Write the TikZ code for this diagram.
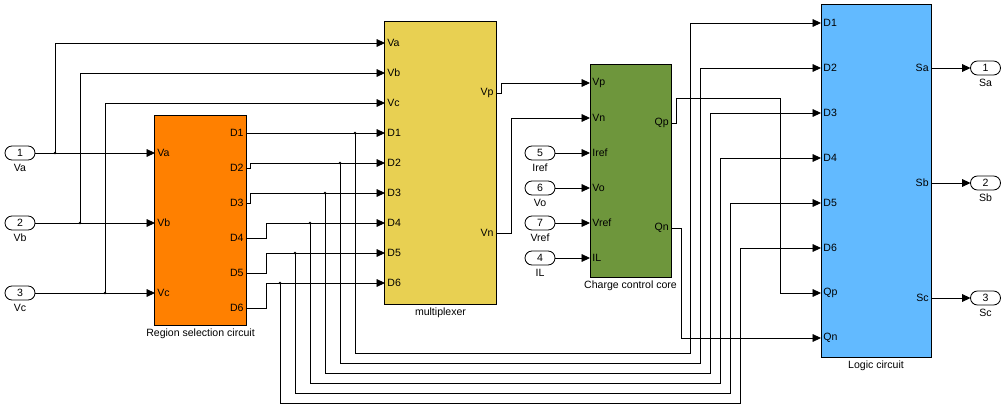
\documentclass[tikz,border=0pt]{standalone}
\usepackage{fontspec}
\setmainfont{Liberation Sans}
\usetikzlibrary{arrows.meta}

\definecolor{rscorange}{RGB}{255,128,0}
\definecolor{muxyellow}{RGB}{232,208,82}
\definecolor{ccgreen}{RGB}{110,150,60}
\definecolor{logblue}{RGB}{98,186,255}

\tikzset{
  blk/.style={draw, line width=.7pt, inner sep=0pt, outer sep=0pt},
  sig/.style={line width=.6pt, >={Triangle[length=6pt,width=5.5pt]}, ->},
  iport/.style={draw, line width=.6pt, fill=white, rounded corners=1.75mm,
    minimum width=.75cm, minimum height=.35cm, inner sep=0pt, outer sep=0pt,
    font=\fontsize{7.5}{8}\selectfont},
  pin/.style={inner sep=1.5pt, font=\fontsize{7.5}{8}\selectfont},
  tag/.style={inner sep=2.5pt, font=\fontsize{7.5}{8}\selectfont}
}

\begin{document}
\begin{tikzpicture}[x=0.025cm, y=-0.025cm]

    \useasboundingbox (0,0) rectangle (1008,413);

    % blocks
    \node[blk, fill=rscorange, minimum width=2.275cm, minimum height=5.225cm] (rsc) at (200.5,220.5) {};
    \node[tag, below] (rsctag) at (rsc.south) {Region selection circuit};
    \node[blk, fill=muxyellow, minimum width=2.775cm, minimum height=7.05cm] (mux) at (440.5,163) {};
    \node[tag, below] (muxtag) at (mux.south) {multiplexer};
    \node[blk, fill=ccgreen, minimum width=2.025cm, minimum height=5.3cm] (ccc) at (630.5,171) {};
    \node[tag, below] (ccctag) at (ccc.south) {Charge control core};
    \node[blk, fill=logblue, minimum width=2.75cm, minimum height=8.8cm] (log) at (876,181) {};
    \node[tag, below] (logtag) at (log.south) {Logic circuit};

    % ports
    \foreach \p [count=\k] in {Va,Vb,Vc} {
        \coordinate (rsc\p) at (155,83+70*\k);
        \node[pin, anchor=west] (rscl\p) at (rsc\p) {\p};
    }
    \foreach \p [count=\k] in {D1,D2,D3,D4,D5,D6} {
        \coordinate (rsc\p) at (246,98+35*\k);
        \node[pin, anchor=east] (rscl\p) at (rsc\p) {\p};
    }
    \foreach \p [count=\k] in {Va,Vb,Vc,D1,D2,D3,D4,D5,D6} {
        \coordinate (mux\p) at (385,13+30*\k);
        \node[pin, anchor=west] (muxl\p) at (mux\p) {\p};
    }
    \coordinate (muxVp) at (496,93);
    \coordinate (muxVn) at (496,233);
    \node[pin, anchor=east] (muxlVp) at (muxVp) {Vp};
    \node[pin, anchor=east] (muxlVn) at (muxVn) {Vn};
    \foreach \p [count=\k] in {Vp,Vn,Iref,Vo,Vref,IL} {
        \coordinate (ccc\p) at (590,48+35*\k);
        \node[pin, anchor=west] (cccl\p) at (ccc\p) {\p};
    }
    \coordinate (cccQp) at (671,123);
    \coordinate (cccQn) at (671,228);
    \node[pin, anchor=east] (ccclQp) at (cccQp) {Qp};
    \node[pin, anchor=east] (ccclQn) at (cccQn) {Qn};
    \foreach \p [count=\k] in {D1,D2,D3,D4,D5,D6,Qp,Qn} {
        \coordinate (log\p) at (821,-22+45*\k);
        \node[pin, anchor=west] (logl\p) at (log\p) {\p};
    }
    \foreach \p [count=\k] in {Sa,Sb,Sc} {
        \coordinate (log\p) at (931,-47+115*\k);
        \node[pin, anchor=east] (logl\p) at (log\p) {\p};
    }

    % in and out ports
    \foreach \n/\p/\y in {1/Va/153, 2/Vb/223, 3/Vc/293} {
        \node[iport] (in\n) at (20,\y) {\n};
        \node[tag, below] (intag\n) at (in\n.south) {\p};
    }
    \foreach \n/\p/\y in {5/Iref/153, 6/Vo/188, 7/Vref/223, 4/IL/258} {
        \node[iport] (in\n) at (540,\y) {\n};
        \node[tag, below] (intag\n) at (in\n.south) {\p};
        \draw[sig] (in\n.east) -- (ccc\p);
    }
    \foreach \n/\p in {1/Sa, 2/Sb, 3/Sc} {
        \node[iport] (out\n) at (985.5,-47+115*\n) {\n};
        \node[tag, below] (outtag\n) at (out\n.south) {\p};
        \draw[sig] (log\p) -- (out\n.west);
    }

    % inputs
    \draw[sig] (in1.east) -- (rscVa);
    \draw[sig] (in2.east) -- (rscVb);
    \draw[sig] (in3.east) -- (rscVc);
    \fill (55,153) circle (1pt);
    \fill (80,223) circle (1pt);
    \fill (105,293) circle (1pt);
    \draw[sig] (55,153) |- (muxVa);
    \draw[sig] (80,223) |- (muxVb);
    \draw[sig] (105,293) |- (muxVc);

    % region selection to multiplexer
    \draw[sig] (rscD1) -- (muxD1);
    \draw[sig] (rscD2) -- ++(4,0) |- (muxD2);
    \draw[sig] (rscD3) -- ++(4,0) |- (muxD3);
    \draw[sig] (rscD4) -- ++(20,0) |- (muxD4);
    \draw[sig] (rscD5) -- ++(20,0) |- (muxD5);
    \draw[sig] (rscD6) -- ++(20,0) |- (muxD6);

    % D branches round the bottom to the logic circuit
    \foreach \k in {1,...,6} {
        \pgfmathsetmacro\bx{370-15*\k}
        \pgfmathsetmacro\by{343+10*\k}
        \pgfmathsetmacro\rx{680+10*\k}
        \coordinate (jd\k) at (muxD\k -| \bx,0);
        \fill (jd\k) circle (1pt);
        \draw[sig] (jd\k) |- (\rx,\by) |- (logD\k);
    }

    % multiplexer to charge control core
    \draw[sig] (muxVp) -- ++(5,0) |- (cccVp);
    \draw[sig] (muxVn) -- ++(15,0) |- (cccVn);

    % charge control core to logic circuit
    \draw[sig] (cccQp) -- ++(5,0) |- (780,98) |- (logQp);
    \draw[sig] (cccQn) -- ++(10,0) |- (logQn);

\end{tikzpicture}
\end{document}
